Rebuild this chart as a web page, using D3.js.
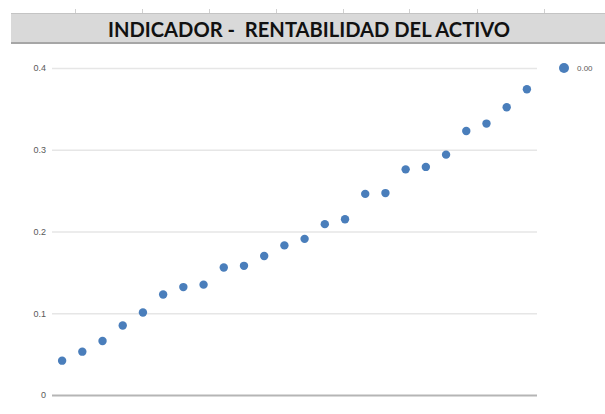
<!DOCTYPE html>
<html>
<head>
<meta charset="utf-8">
<script src="https://cdn.jsdelivr.net/npm/d3@7"></script>
<style>
  body { margin: 0; background: #fff; }
  svg { display: block; }
  .tick text { font-family: "Liberation Sans", Arial, sans-serif; font-size: 9px; fill: #595959; }
</style>
</head>
<body>
<svg width="605" height="414"></svg>
<script>
// periods (no labels shown on the category axis)
const categories = d3.range(1, 25).map(String);
const values = [
  0.042, 0.053, 0.066, 0.085, 0.101, 0.123, 0.132, 0.135,
  0.156, 0.158, 0.170, 0.183, 0.191, 0.209, 0.215, 0.246,
  0.247, 0.276, 0.279, 0.294, 0.323, 0.332, 0.352, 0.374
];
const yTicks = [0, 0.1, 0.2, 0.3, 0.4];
const seriesName = "0.00";
const title = "INDICADOR -  RENTABILIDAD DEL ACTIVO";
const sheetCols = [75, 142, 209, 276, 343, 409, 477, 544];

const svg = d3.select("svg");
const dotColor = "#4a7ebb";
const plot = { left: 52, right: 537, top: 68, bottom: 395 };

// spreadsheet-style title band
svg.selectAll(".col")
  .data(sheetCols)
  .enter()
  .append("line")
  .attr("x1", (d) => d + 0.5)
  .attr("x2", (d) => d + 0.5)
  .attr("y1", 9)
  .attr("y2", 13)
  .attr("stroke", "#d0d0d0");
svg.append("rect")
  .attr("x", 11)
  .attr("y", 13)
  .attr("width", 605 - 11)
  .attr("height", 30)
  .attr("fill", "#d9d9d9");
svg.append("line")
  .attr("x1", 11).attr("x2", 605)
  .attr("y1", 13.5).attr("y2", 13.5)
  .attr("stroke", "#c4c4c4");
svg.append("line")
  .attr("x1", 11).attr("x2", 605)
  .attr("y1", 43).attr("y2", 43)
  .attr("stroke", "#a6a6a6")
  .attr("stroke-width", 2);
svg.append("text")
  .text(title)
  .style("white-space", "pre")
  .attr("x", 108)
  .attr("y", 37)
  .attr("textLength", 402)
  .attr("lengthAdjust", "spacingAndGlyphs")
  .attr("font-family", "Lato, 'Open Sans', sans-serif")
  .attr("font-weight", "bold")
  .attr("font-size", 20)
  .attr("fill", "#111");

const xScale = d3
  .scalePoint()
  .domain(categories)
  .range([plot.left, plot.right])
  .padding(0.5);
const yScale = d3
  .scaleLinear()
  .domain([0, 0.4])
  .range([plot.bottom, plot.top]);

const yAxis = d3
  .axisLeft(yScale)
  .tickValues(yTicks)
  .tickFormat((d) => (d === 0 ? "0" : d3.format(".1f")(d)))
  .tickSize(-(plot.right - plot.left))
  .tickPadding(6);

const gy = svg
  .append("g")
  .attr("transform", `translate(${plot.left},0)`)
  .call(yAxis);
gy.select(".domain").remove();
gy.selectAll(".tick line")
  .attr("stroke", (d) => (d === 0 ? "#b5b5b5" : "#e6e6e6"))
  .attr("stroke-width", (d) => (d === 0 ? 2 : 1.5));

svg.append("g")
  .selectAll("circle")
  .data(values)
  .enter()
  .append("circle")
  .attr("cx", (d, i) => xScale(categories[i]))
  .attr("cy", (d) => yScale(d))
  .attr("r", 4.2)
  .attr("fill", dotColor);

// legend
const legend = svg.append("g").attr("transform", "translate(564,68)");
legend.append("circle").attr("r", 5).attr("fill", dotColor);
legend.append("text")
  .text(seriesName)
  .attr("x", 13)
  .attr("dy", "0.35em")
  .attr("font-family", "'Liberation Sans', Arial, sans-serif")
  .attr("font-size", 8)
  .attr("fill", "#595959");
</script>
</body>
</html>
